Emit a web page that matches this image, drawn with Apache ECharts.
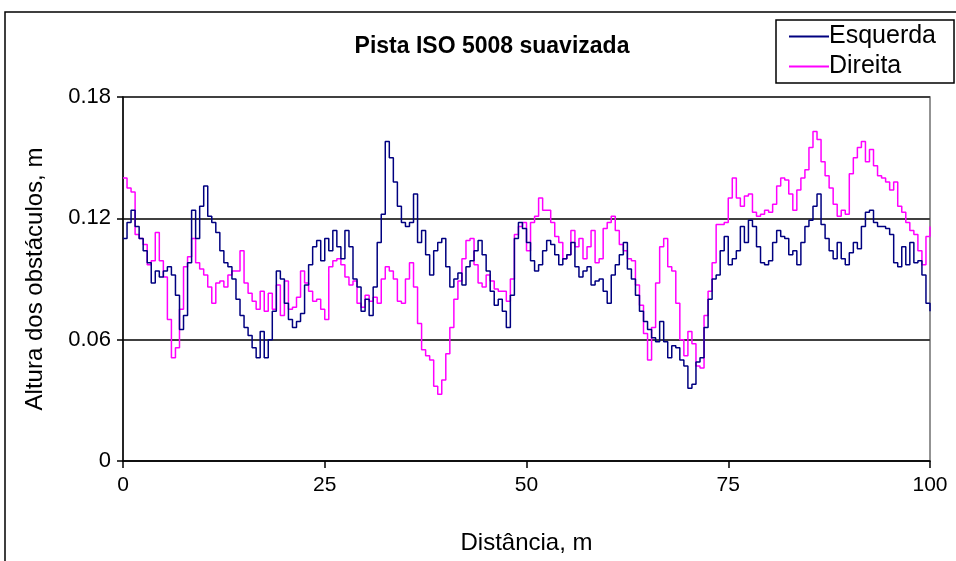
<!DOCTYPE html>
<html>
<head>
<meta charset="utf-8">
<script src="https://cdn.jsdelivr.net/npm/echarts@6/dist/echarts.min.js"></script>
<style>
html,body{margin:0;padding:0;background:#fff;}
#chart{width:956px;height:561px;}
</style>
</head>
<body>
<div id="chart"></div>
<script>
// Distance step between samples (m)
const STEP = 0.5;
const xTicks = [0, 25, 50, 75, 100];
const yTicks = [0, 0.06, 0.12, 0.18];
const seriesNames = ['Esquerda', 'Direita'];

// Esquerda (left track), sampled every 0.5 m from 0 to 100 m
const esquerda = [
0.110,0.118,0.124,0.116,0.110,0.104,0.098,0.088,0.094,0.091,
0.094,0.096,0.092,0.082,0.065,0.072,0.098,0.124,0.110,0.126,
0.136,0.121,0.118,0.113,0.104,0.098,0.096,0.090,0.080,0.072,
0.066,0.062,0.056,0.051,0.064,0.051,0.060,0.074,0.094,0.090,
0.078,0.070,0.066,0.069,0.073,0.087,0.097,0.106,0.109,0.099,
0.110,0.104,0.114,0.106,0.100,0.114,0.106,0.090,0.086,0.074,
0.080,0.072,0.086,0.108,0.122,0.158,0.150,0.138,0.126,0.118,
0.116,0.118,0.132,0.108,0.114,0.102,0.092,0.104,0.108,0.110,
0.096,0.086,0.090,0.093,0.087,0.096,0.099,0.104,0.109,0.102,
0.094,0.084,0.077,0.080,0.074,0.066,0.082,0.110,0.118,0.115,
0.108,0.099,0.094,0.097,0.104,0.109,0.107,0.102,0.097,0.100,
0.102,0.108,0.096,0.091,0.094,0.096,0.087,0.089,0.090,0.084,
0.078,0.092,0.097,0.102,0.108,0.095,0.090,0.082,0.074,0.069,
0.065,0.061,0.059,0.069,0.059,0.051,0.057,0.056,0.050,0.047,
0.036,0.038,0.049,0.051,0.066,0.080,0.090,0.092,0.104,0.111,
0.097,0.100,0.104,0.116,0.108,0.119,0.116,0.106,0.098,0.097,
0.099,0.108,0.114,0.111,0.110,0.102,0.104,0.097,0.108,0.116,
0.119,0.126,0.132,0.117,0.110,0.104,0.100,0.108,0.100,0.097,
0.103,0.108,0.105,0.116,0.123,0.124,0.118,0.116,0.116,0.115,
0.112,0.098,0.096,0.106,0.097,0.108,0.098,0.099,0.092,0.078,
0.074
];

// Direita (right track), sampled every 0.5 m from 0 to 100 m
const direita = [
0.140,0.135,0.133,0.112,0.110,0.107,0.097,0.099,0.113,0.099,
0.091,0.070,0.051,0.056,0.075,0.096,0.101,0.110,0.098,0.095,
0.092,0.086,0.078,0.088,0.089,0.086,0.092,0.094,0.094,0.104,
0.088,0.083,0.079,0.075,0.084,0.074,0.083,0.075,0.087,0.072,
0.089,0.075,0.076,0.081,0.094,0.088,0.084,0.079,0.080,0.075,
0.070,0.096,0.099,0.100,0.097,0.091,0.087,0.089,0.078,0.076,
0.082,0.079,0.081,0.078,0.090,0.096,0.094,0.090,0.079,0.078,
0.090,0.098,0.086,0.068,0.055,0.052,0.050,0.037,0.033,0.040,
0.053,0.066,0.080,0.089,0.100,0.109,0.110,0.097,0.088,0.086,
0.092,0.089,0.085,0.084,0.084,0.079,0.090,0.112,0.116,0.118,
0.104,0.118,0.121,0.130,0.124,0.124,0.118,0.111,0.108,0.100,
0.102,0.114,0.106,0.110,0.100,0.106,0.114,0.098,0.100,0.115,
0.118,0.121,0.114,0.107,0.104,0.100,0.099,0.087,0.077,0.063,
0.050,0.066,0.088,0.106,0.110,0.096,0.094,0.078,0.060,0.052,
0.064,0.058,0.047,0.046,0.072,0.084,0.098,0.117,0.117,0.118,
0.130,0.140,0.130,0.126,0.131,0.132,0.123,0.121,0.122,0.124,
0.123,0.127,0.136,0.140,0.139,0.132,0.124,0.134,0.140,0.144,
0.155,0.163,0.159,0.148,0.141,0.135,0.127,0.121,0.124,0.122,
0.142,0.150,0.155,0.158,0.148,0.154,0.146,0.141,0.140,0.138,
0.134,0.138,0.126,0.123,0.118,0.114,0.112,0.104,0.097,0.111,
0.116
];

const colors = ['#000080', '#FF00FF'];
const FONT = '"Liberation Sans", Arial, sans-serif';

function toPairs(arr) { return arr.map((v, i) => [i * STEP, v]); }

const chart = echarts.init(document.getElementById('chart'), null, {renderer: 'canvas'});
chart.setOption({
  animation: false,
  backgroundColor: '#ffffff',
  textStyle: {fontFamily: FONT, color: '#000'},
  title: {
    text: 'Pista ISO 5008 suavizada',
    left: 487, top: 30, textAlign: 'center',
    textStyle: {fontFamily: FONT, fontSize: 23, fontWeight: 'bold', color: '#000'}
  },
  legend: {
    orient: 'vertical',
    left: 776, top: 20,
    padding: [4, 18, 4, 13],
    itemGap: 5,
    itemWidth: 40, itemHeight: 2,
    icon: 'rect',
    borderColor: '#000', borderWidth: 1.5,
    backgroundColor: '#fff',
    textStyle: {fontFamily: FONT, fontSize: 25, color: '#000', padding: [0, 0, 0, -5]},
    data: seriesNames
  },
  graphic: [{
    type: 'rect', silent: true, z: -1,
    shape: {x: 5, y: 12, width: 1000, height: 600},
    style: {fill: 'none', stroke: '#000', lineWidth: 1.5}
  }],
  grid: {left: 123, right: 26, top: 97, bottom: 100, show: true, borderColor: '#707070', borderWidth: 1.5},
  xAxis: {
    type: 'value', min: xTicks[0], max: xTicks[xTicks.length - 1], interval: 25,
    name: 'Distância, m', nameLocation: 'middle', nameGap: 70,
    nameTextStyle: {fontFamily: FONT, fontSize: 24, color: '#000'},
    axisLine: {show: true, lineStyle: {color: '#000', width: 1.5}},
    axisTick: {show: true, length: 7, lineStyle: {color: '#000', width: 1.5}},
    axisLabel: {fontFamily: FONT, fontSize: 21, color: '#000', margin: 14},
    splitLine: {show: false}
  },
  yAxis: {
    type: 'value', min: yTicks[0], max: yTicks[yTicks.length - 1], interval: 0.06,
    name: 'Altura dos obstáculos, m', nameLocation: 'middle', nameGap: 76, nameRotate: 90,
    nameTextStyle: {fontFamily: FONT, fontSize: 24, color: '#000'},
    axisLine: {show: true, lineStyle: {color: '#000', width: 1.5}},
    axisTick: {show: true, length: 6, lineStyle: {color: '#000', width: 1.5}},
    axisLabel: {fontFamily: FONT, fontSize: 22, color: '#000', margin: 12,
      formatter: v => (v === 0 ? '0' : v.toFixed(2))},
    splitLine: {show: true, lineStyle: {color: '#404040', width: 2}}
  },
  series: [
    {name: seriesNames[0], type: 'line', step: 'end', symbol: 'none', data: toPairs(esquerda),
     lineStyle: {color: colors[0], width: 1.5}, itemStyle: {color: colors[0]}, z: 3},
    {name: seriesNames[1], type: 'line', step: 'end', symbol: 'none', data: toPairs(direita),
     lineStyle: {color: colors[1], width: 1.5}, itemStyle: {color: colors[1]}, z: 2}
  ]
});
</script>
</body>
</html>
